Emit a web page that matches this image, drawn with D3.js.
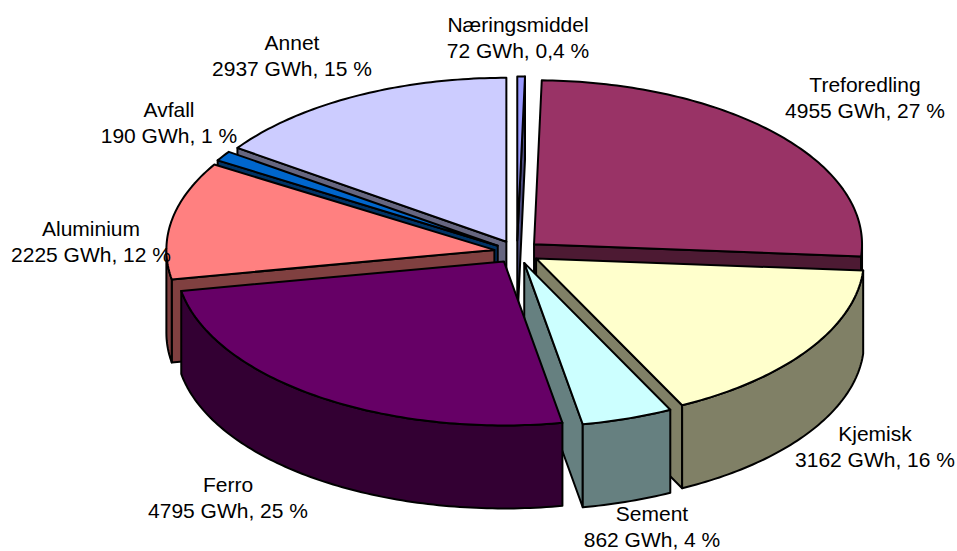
<!DOCTYPE html>
<html lang="en">
  <head>
    <meta charset="UTF-8" />
    <title>Kraftforbruk i industrien</title>
    <script src="https://d3js.org/d3.v7.min.js"></script>
    <style>
      html, body { margin: 0; padding: 0; background: #fff; }
      svg { display: block; }
      text { font-family: "Liberation Sans", Arial, sans-serif; font-size: 21px; fill: #000; }
    </style>
  </head>
  <body>
    <svg width="957" height="551"></svg>
    <script>
      // clockwise from 12 o'clock
      const categories = ['Næringsmiddel', 'Treforedling', 'Kjemisk', 'Sement', 'Ferro', 'Aluminium', 'Avfall', 'Annet'];
      const gwh = [72, 4955, 3162, 862, 4795, 2225, 190, 2937];
      const percents = ['0,4', '27', '16', '4', '25', '12', '1', '15'];
      const colors = ['#9999ff', '#993366', '#ffffcc', '#ccffff', '#660066', '#ff8080', '#0066cc', '#ccccff'];

      // back to front
      const drawOrder = [0, 7, 6, 5, 1, 2, 3, 4];

      // Sement sits a little high so its second line stays inside the page
      const labelCenters = [
        [518, 25], [865, 85], [875, 434], [652, 513.5],
        [228, 485], [91, 229], [169, 110], [292, 43],
      ];

      const cx = 517;
      const cy = 252;
      const rx = 328;
      const ry = 164;
      const depth = 83;
      const explode = 23;

      const svg = d3.select('svg');
      const pie = d3.pie().sort(null).value((d) => d);
      const arcs = pie(gwh);
      const line = d3.line();

      function darker(c) {
        const rgb = d3.rgb(c);
        return d3.rgb(rgb.r / 2, rgb.g / 2, rgb.b / 2).formatHex();
      }

      function arcPoints(a0, a1, ox, oy, z) {
        const n = Math.max(2, Math.ceil((a1 - a0) * 60));
        return d3.range(n + 1).map((i) => {
          const a = a0 + ((a1 - a0) * i) / n;
          return [ox + rx * Math.sin(a), oy - ry * Math.cos(a) + z];
        });
      }

      function face(g, pts, fill) {
        g.append('path')
          .attr('d', line(pts) + 'Z')
          .attr('fill', fill)
          .attr('stroke', '#000')
          .attr('stroke-width', 2)
          .attr('stroke-linejoin', 'round');
      }

      drawOrder.forEach((i) => {
        const { startAngle: a0, endAngle: a1 } = arcs[i];
        const mid = (a0 + a1) / 2;
        const ox = cx + explode * Math.sin(mid);
        const oy = cy - (explode * Math.cos(mid) * ry) / rx;
        const side = darker(colors[i]);
        const g = svg.append('g').attr('class', 'slice');

        // cut faces, only the ones turned towards the viewer
        [a0, a1].forEach((a, k) => {
          const visible = k === 0 ? Math.sin(a) < 0 : Math.sin(a) > 0;
          if (!visible) return;
          const p = arcPoints(a, a, ox, oy, 0)[0];
          face(g, [[ox, oy], p, [p[0], p[1] + depth], [ox, oy + depth]], side);
        });

        // rim, front half only
        const w0 = Math.max(a0, Math.PI / 2);
        const w1 = Math.min(a1, (3 * Math.PI) / 2);
        if (w1 > w0) {
          const top = arcPoints(w0, w1, ox, oy, 0);
          const bottom = arcPoints(w0, w1, ox, oy, depth).reverse();
          face(g, top.concat(bottom), side);
        }

        face(g, [[ox, oy]].concat(arcPoints(a0, a1, ox, oy, 0)), colors[i]);
      });

      const labels = svg
        .append('g')
        .selectAll('text')
        .data(categories)
        .join('text')
        .attr('text-anchor', 'middle')
        .attr('x', (d, i) => labelCenters[i][0])
        .attr('y', (d, i) => labelCenters[i][1] + 7);

      labels.append('tspan').text((d) => d);
      labels
        .append('tspan')
        .attr('x', (d, i) => labelCenters[i][0])
        .attr('dy', 26)
        .text((d, i) => `${gwh[i]} GWh, ${percents[i]} %`);
    </script>
  </body>
</html>
